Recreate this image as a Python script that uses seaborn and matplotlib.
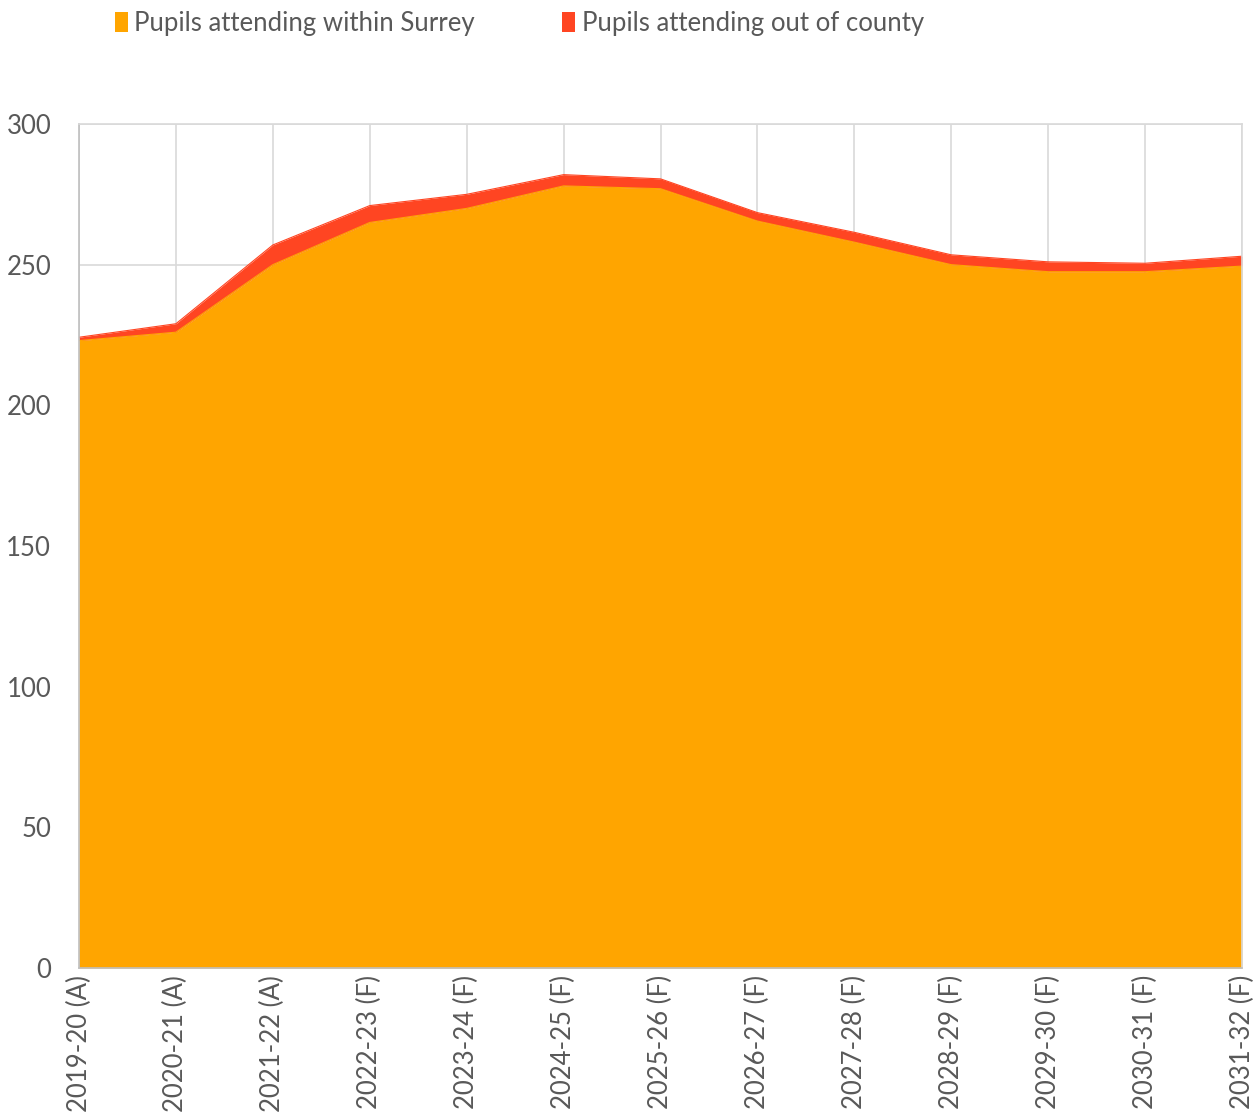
import numpy as np
import pandas as pd
import matplotlib.pyplot as plt
import seaborn as sns
from matplotlib.patches import Patch

# 数据
years = ["2019-20 (A)", "2020-21 (A)", "2021-22 (A)", "2022-23 (F)", "2023-24 (F)",
         "2024-25 (F)", "2025-26 (F)", "2026-27 (F)", "2027-28 (F)", "2028-29 (F)",
         "2029-30 (F)", "2030-31 (F)", "2031-32 (F)"]
within_surrey = [223, 226, 250, 265, 270, 278, 277, 265.5, 258, 250, 247.5, 247.5, 249.5]
out_of_county = [1.2, 3, 7, 6, 5, 4, 3.5, 3, 3.5, 3.5, 3.5, 3, 3.5]

series_names = ["Pupils attending within Surrey", "Pupils attending out of county"]
colors = ["#FFA500", "#FF4522"]

sns.set_style("white")
plt.rcParams['font.family'] = ['Lato', 'DejaVu Sans']

x = np.arange(len(years))
df = pd.DataFrame({"x": x, "within": within_surrey,
                   "total": np.array(within_surrey) + np.array(out_of_county)})

fig = plt.figure(figsize=(12.59, 11.2), dpi=100)
ax = fig.add_axes([79 / 1259, 1 - 968 / 1120, (1242 - 79) / 1259, (968 - 124) / 1120])

ax.stackplot(x, within_surrey, out_of_county, colors=colors, linewidth=0)
sns.lineplot(data=df, x="x", y="within", color=colors[0], linewidth=0.8, ax=ax)
sns.lineplot(data=df, x="x", y="total", color=colors[1], linewidth=0.8, ax=ax)

ax.set_xlim(0, len(years) - 1)
ax.set_ylim(0, 300)
ax.set_yticks(range(0, 301, 50))
ax.set_xticks(x)
ax.set_xticklabels(years, rotation=90)
ax.set_xlabel("")
ax.set_ylabel("")

ax.grid(True, color="#d9d9d9", linewidth=1.2)
ax.set_axisbelow(True)
for s in ax.spines.values():
    s.set_color("#d9d9d9")
    s.set_linewidth(1.2)
ax.spines["left"].set_color("#bfbfbf")
ax.spines["bottom"].set_color("#bfbfbf")
ax.tick_params(axis="both", length=0, labelsize=18.5, labelcolor="#595959")
ax.tick_params(axis="y", pad=20)
ax.tick_params(axis="x", pad=5)

handles = [Patch(facecolor=c, edgecolor="none") for c in colors]
fig.legend(handles, series_names, loc="upper left", bbox_to_anchor=(92 / 1259, 1 + 12 / 1120),
           ncol=2, frameon=False, fontsize=18.5, labelcolor="#595959",
           handlelength=0.5, handleheight=0.8, handletextpad=0.25, columnspacing=3.4)

plt.savefig("out.png", dpi=100)
